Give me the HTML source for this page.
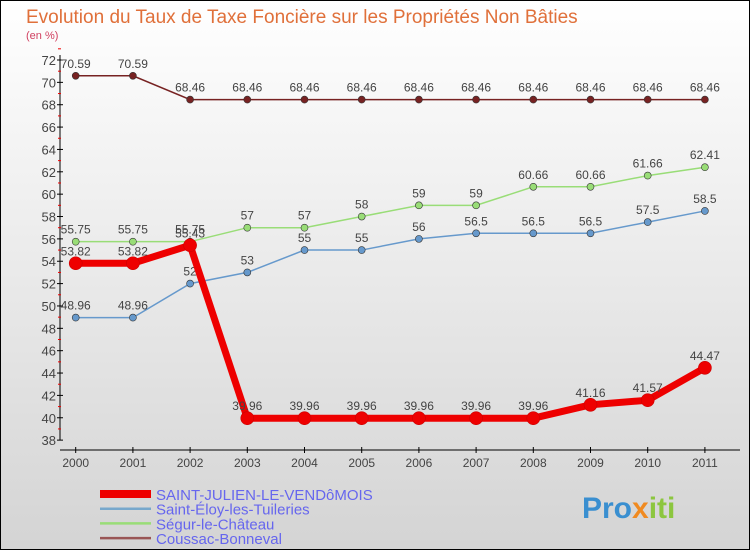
<!DOCTYPE html>
<html><head><meta charset="utf-8"><style>
body{margin:0}
#c{width:750px;height:550px;position:relative;background:linear-gradient(#ffffff,#d4d4d4);box-sizing:border-box;border:1px solid #000;overflow:hidden;font-family:"Liberation Sans",sans-serif}
</style></head><body>
<div id="c">
<svg id="s" width="750" height="550" style="position:absolute;left:-1px;top:-1px" font-family="Liberation Sans, sans-serif">
<text x="26" y="23" font-size="19" fill="#e0703a">Evolution du Taux de Taxe Foncière sur les Propriétés Non Bâties</text>
<text x="26" y="39" font-size="11" fill="#d04060">(en %)</text>
<g id="g"></g>
<text x="582" y="518" font-size="30" font-weight="bold" fill="#3a8fd0">Pro<tspan fill="#f08a20">x</tspan><tspan fill="#8cc63f">iti</tspan></text>
</svg>
</div>
<script>
const years=["2000","2001","2002","2003","2004","2005","2006","2007","2008","2009","2010","2011"];
const yTicks=[38,40,42,44,46,48,50,52,54,56,58,60,62,64,66,68,70,72];
const sJulien=[53.82,53.82,55.43,39.96,39.96,39.96,39.96,39.96,39.96,41.16,41.57,44.47];
const sEloy=[48.96,48.96,52,53,55,55,56,56.5,56.5,56.5,57.5,58.5];
const sSegur=[55.75,55.75,55.75,57,57,58,59,59,60.66,60.66,61.66,62.41];
const sCoussac=[70.59,70.59,68.46,68.46,68.46,68.46,68.46,68.46,68.46,68.46,68.46,68.46];
const names=["SAINT-JULIEN-LE-VENDôMOIS","Saint-Éloy-les-Tuileries","Ségur-le-Château","Coussac-Bonneval"];
const NS="http://www.w3.org/2000/svg",g=document.getElementById('g');
const X=i=>75.7+i*57.2, Y=v=>60+(72-v)*11.18;
function el(t,a,p){const e=document.createElementNS(NS,t);for(const k in a)e.setAttribute(k,a[k]);(p||g).appendChild(e);return e;}
let e=el('line',{x1:60,y1:55,x2:60,y2:440,stroke:'#000'});

e=el('line',{x1:60,y1:450,x2:740,y2:450,stroke:'#000'});

yTicks.forEach(v=>{el('line',{x1:57,x2:63,y1:Y(v),y2:Y(v),stroke:'#000'});
 el('line',{x1:58,x2:61,y1:Y(v+1),y2:Y(v+1),stroke:'#e00'});
 const t=el('text',{x:56,y:Y(v)+5,'font-size':13,'text-anchor':'end',fill:'#444'});t.textContent=v;
 });
years.forEach((y,i)=>{el('line',{x1:X(i),x2:X(i),y1:447,y2:453,stroke:'#000'});
 const t=el('text',{x:X(i),y:467,'font-size':12,'text-anchor':'middle',fill:'#444'});t.textContent=y;
 });
const series=[[sCoussac,'#772222',1.5,3.5,'coussac'],[sSegur,'#99dd77',1.5,3.5,'segur'],[sEloy,'#6699cc',1.5,3.5,'eloy'],[sJulien,'#ee0000',7,6.5,'julien']];
series.forEach(([d,c,w,r,n])=>{
 const p=el('polyline',{points:d.map((v,i)=>X(i)+','+Y(v)).join(' '),fill:'none',stroke:c,'stroke-width':w});
 
 d.forEach((v,i)=>{const m=el('circle',{cx:X(i),cy:Y(v),r:r,fill:c,stroke:n=='julien'?'#c00':'#333','stroke-width':0.6});
  
  const t=el('text',{x:X(i),y:Y(v)-8,'font-size':12,'text-anchor':'middle',fill:'#444'});t.textContent=String(v);
  });
});
const lc=['#ee0000','#77a8cc','#99dd77','#995555'],lw=[8,2.5,2.5,2.5];
names.forEach((nm,i)=>{const y=494+i*14.7;
 const l=el('line',{x1:100,x2:151,y1:y,y2:y,stroke:lc[i],'stroke-width':lw[i]});
 
 const t=el('text',{x:156,y:y+6,'font-size':15,fill:'#6666ee'});t.textContent=nm;
 });
</script>
</body></html>
